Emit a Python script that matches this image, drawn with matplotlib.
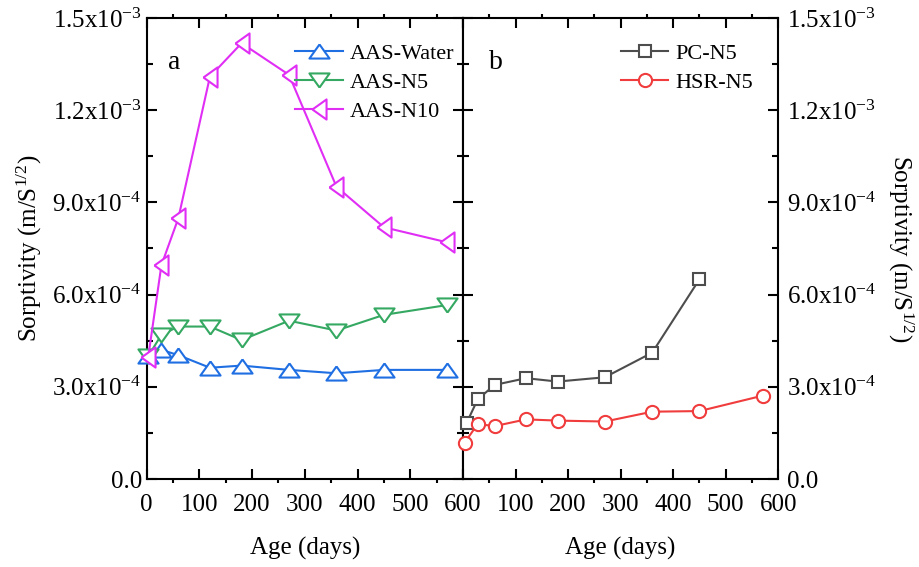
import numpy as np
import matplotlib
matplotlib.use("Agg")
import matplotlib.pyplot as plt
from matplotlib.ticker import MultipleLocator

plt.rcParams['font.family'] = ['Liberation Serif', 'DejaVu Serif']
plt.rcParams['mathtext.fontset'] = 'custom'
plt.rcParams['mathtext.rm'] = 'Liberation Serif'
plt.rcParams['mathtext.it'] = 'Liberation Serif:italic'

# data (age in days, sorptivity in m/s^1/2)
days = [3, 28, 60, 120, 180, 270, 360, 450, 570]
aas_water = [4.0e-4, 4.2e-4, 4.03e-4, 3.62e-4, 3.69e-4, 3.55e-4, 3.44e-4, 3.55e-4, 3.55e-4]
aas_n5 = [4.0e-4, 4.69e-4, 4.96e-4, 4.96e-4, 4.52e-4, 5.15e-4, 4.83e-4, 5.34e-4, 5.66e-4]
aas_n10 = [3.98e-4, 6.96e-4, 8.48e-4, 1.309e-3, 1.418e-3, 1.315e-3, 9.51e-4, 8.19e-4, 7.70e-4]

pc_days = [7, 28, 60, 120, 180, 270, 360, 450]
pc_n5 = [1.83e-4, 2.59e-4, 3.06e-4, 3.28e-4, 3.17e-4, 3.31e-4, 4.11e-4, 6.50e-4]
hsr_n5 = [1.18e-4, 1.79e-4, 1.72e-4, 1.94e-4, 1.90e-4, 1.87e-4, 2.19e-4, 2.21e-4, 2.71e-4]

yticks = [0, 3e-4, 6e-4, 9e-4, 1.2e-3, 1.5e-3]
ylabels = ['0.0', '3.0x10$^{-4}$', '6.0x10$^{-4}$', '9.0x10$^{-4}$',
           '1.2x10$^{-3}$', '1.5x10$^{-3}$']
xticks = [0, 100, 200, 300, 400, 500, 600]

# flatter triangles like the original
up = [(0, 0.7), (-1, -0.7), (1, -0.7), (0, 0.7)]
down = [(0, -0.7), (-1, 0.7), (1, 0.7), (0, -0.7)]
left = [(-0.7, 0), (0.7, 1), (0.7, -1), (-0.7, 0)]

fig = plt.figure(figsize=(9.19, 5.67), dpi=100)
ax1 = fig.add_axes([0.1596, 0.1552, 0.3442, 0.8131])
ax2 = fig.add_axes([0.5038, 0.1552, 0.3431, 0.8131])

lw = 1.5
mew = 1.5
ax1.plot(days, aas_water, color='#1f6fe3', marker=up, ms=14.5, mfc='white', mew=mew,
         lw=lw, label='AAS-Water', clip_on=False, zorder=3)
ax1.plot(days, aas_n5, color='#35a862', marker=down, ms=14.5, mfc='white', mew=mew,
         lw=lw, label='AAS-N5', clip_on=False, zorder=3)
ax1.plot(days, aas_n10, color='#e02ef5', marker=left, ms=14.5, mfc='white', mew=mew,
         lw=lw, label='AAS-N10', clip_on=False, zorder=3)

ax2.plot(pc_days, pc_n5, color='#4d4d4d', marker='s', ms=9, mfc='white', mew=mew,
         lw=lw, label='PC-N5', clip_on=False, zorder=3)
ax2.plot(days, hsr_n5, color='#f03c3c', marker='o', ms=9.5, mfc='white', mew=mew,
         lw=lw, label='HSR-N5', clip_on=False, zorder=3)

for ax in (ax1, ax2):
    ax.set_xlim(0, 600)
    ax.set_ylim(0, 1.5e-3)
    ax.set_xticks(xticks)
    ax.xaxis.set_minor_locator(MultipleLocator(50))
    ax.set_yticks(yticks)
    ax.yaxis.set_minor_locator(MultipleLocator(1.5e-4))
    ax.tick_params(axis='x', which='major', direction='in', top=True, bottom=True,
                   length=7, width=1.5, labelsize=18, pad=11)
    ax.tick_params(axis='x', which='minor', direction='out', top=True, bottom=True,
                   length=3, width=1.5)
    ax.tick_params(axis='y', which='major', direction='in', left=True, right=True,
                   length=7, width=1.5, labelsize=18)
    ax.tick_params(axis='y', which='minor', direction='in', left=True, right=True,
                   length=4, width=1.5)
    for s in ax.spines.values():
        s.set_linewidth(1.5)
    ax.set_xlabel('Age (days)', fontsize=18, labelpad=15)

ax1.set_xticklabels([str(t) for t in xticks])
ax1.set_yticklabels(ylabels)
ax1.set_ylabel('Sorptivity (m/S$^{1/2}$)', fontsize=18, labelpad=6)

ax2.set_xticklabels([''] + [str(t) for t in xticks[1:]])
ax2.set_yticklabels(ylabels)
ax2.tick_params(axis='y', which='both', labelleft=False, labelright=True, pad=6)
ax2.yaxis.set_label_position('right')
ax2.set_ylabel('Sorptivity (m/S$^{1/2}$)', fontsize=18, rotation=270, labelpad=28)

ax1.text(0.067, 0.89, 'a', transform=ax1.transAxes, fontsize=20)
ax2.text(0.081, 0.89, 'b', transform=ax2.transAxes, fontsize=20)

ax1.legend(loc='upper left', bbox_to_anchor=(0.47, 0.945), frameon=False, fontsize=16,
           handlelength=2.15, handletextpad=0.3, labelspacing=0.38, borderpad=0,
           borderaxespad=0)
ax2.legend(loc='upper left', bbox_to_anchor=(0.50, 0.945), frameon=False, fontsize=16,
           handlelength=2.15, handletextpad=0.3, labelspacing=0.38, borderpad=0,
           borderaxespad=0)

fig.savefig('out.png', dpi=100)
